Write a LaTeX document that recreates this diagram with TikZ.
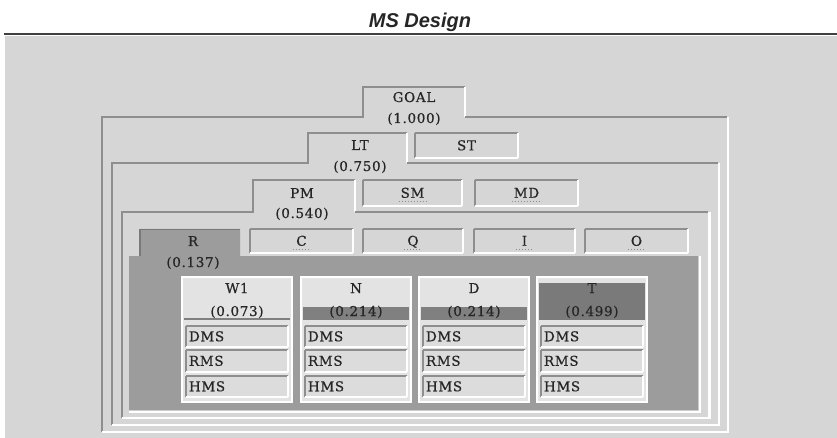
\documentclass[tikz,border=0pt]{standalone}
\usepackage{fontspec}
\newfontfamily\lblfont[LetterSpace=5,FakeBold=0.6]{DejaVu Serif}
\newfontfamily\ttlfont{Liberation Sans}
\definecolor{bgc}{HTML}{D6D6D6}
\definecolor{edk}{HTML}{8E8E8E}
\definecolor{panelc}{HTML}{9C9C9C}
\definecolor{cardc}{HTML}{E3E3E3}
\definecolor{rowc}{HTML}{DCDCDC}
\definecolor{barc}{HTML}{808080}
\definecolor{txtc}{HTML}{262626}
\tikzset{
  darkedge/.style={draw=edk, line width=2.5pt, line join=miter},
  liteedge/.style={draw=white, line width=2.5pt, line join=miter},
  insetdk/.style={draw=edk, line width=2pt},
  insetlt/.style={draw=white, line width=2pt},
  lbl/.style={font=\lblfont\fontsize{13.5}{15}\selectfont, text=txtc, inner sep=0pt},
  inset/.style={fill=bgc, inner sep=0pt, text height=9.5pt, text depth=0pt,
    font=\lblfont\fontsize{13.5}{15}\selectfont, text=txtc,
    append after command={(\tikzlastnode.south west) edge[insetdk] (\tikzlastnode.north west)
      (\tikzlastnode.north west) edge[insetdk] (\tikzlastnode.north east)
      (\tikzlastnode.north east) edge[insetlt] (\tikzlastnode.south east)
      (\tikzlastnode.south east) edge[insetlt] (\tikzlastnode.south west)}},
  rowbox/.style={inset, fill=rowc, minimum height=21pt, text width=96pt, align=left, inner xsep=3pt},
  card/.style={fill=cardc, draw=white, line width=1.5pt, minimum width=110pt, minimum height=125pt, inner sep=0pt},
  mnem/.style={draw=edk, dotted, line width=1pt},
}
\begin{document}
\begin{tikzpicture}[x=1pt,y=-1pt]
\useasboundingbox (0,0) rectangle (837,438);
\fill[white] (0,0) rectangle (837,438);
\fill[bgc] (5,36) rectangle (837,438);
\draw[line width=2pt, draw=black!75] (4,34) -- (837,34);
\node[font=\ttlfont\bfseries\itshape\fontsize{20}{22}\selectfont, text=black!85, anchor=base, inner sep=0pt] (title) at (420,28) {MS Design};

% frame 1 (GOAL)
\draw[darkedge] (102,432) -- (102,117) -- (363,117) -- (363,87) -- (465,87);
\draw[liteedge] (465,87) -- (465,117);
\draw[darkedge] (465,117) -- (727,117);
\draw[liteedge] (728,117) -- (728,432) -- (102,432);
% frame 2 (LT)
\draw[darkedge] (112,425) -- (112,163) -- (308,163) -- (308,133) -- (407,133);
\draw[liteedge] (407,133) -- (407,163);
\draw[darkedge] (407,163) -- (718,163);
\draw[liteedge] (719,163) -- (719,425) -- (112,425);
% frame 3 (PM)
\draw[darkedge] (122,418) -- (122,212) -- (253,212) -- (253,180) -- (355,180);
\draw[liteedge] (355,180) -- (355,212);
\draw[darkedge] (355,212) -- (708,212);
\draw[liteedge] (709.5,212) -- (709.5,418) -- (122,418);

% panel (R)
\fill[panelc] (129,410) -- (129,256) -- (140,256) -- (140,229) -- (240,229) -- (240,256) -- (698,256) -- (698,410) -- cycle;
\draw[draw=edk!85!black, line width=1.5pt] (140,256) -- (140,229.5) -- (240,229.5);
\draw[liteedge, line width=2pt] (699.5,256) -- (699.5,411.5) -- (129,411.5);

% labels of tabs
\node[lbl, anchor=base] (goal) at (414,102) {GOAL};
\node[lbl, anchor=base] (goalv) at (414,123) {(1.000)};
\node[lbl, anchor=base] (lt) at (360,150) {LT};
\node[lbl, anchor=base] (ltv) at (360,171) {(0.750)};
\node[lbl, anchor=base] (pm) at (302,198) {PM};
\node[lbl, anchor=base] (pmv) at (302,218) {(0.540)};
\node[lbl, anchor=base] (r) at (193,246) {R};
\node[lbl, anchor=base] (rv) at (193,267) {(0.137)};

% inset boxes
\node[inset, minimum width=103pt, minimum height=25pt] (st) at (466.5,145.5) {ST};
\node[inset, minimum width=99pt, minimum height=26pt] (sm) at (412.5,193) {SM};
\node[inset, minimum width=103pt, minimum height=26pt] (md) at (526.5,193) {MD};
\node[inset, minimum width=103pt, minimum height=24pt] (c) at (301.5,241) {C};
\node[inset, minimum width=100pt, minimum height=24pt] (q) at (413,241) {Q};
\node[inset, minimum width=101pt, minimum height=24pt] (i) at (524.5,241) {I};
\node[inset, minimum width=103pt, minimum height=24pt] (o) at (636.5,241) {O};
\draw[mnem] ([xshift=-14pt,yshift=-4pt]sm.base) -- ([xshift=14pt,yshift=-4pt]sm.base);
\draw[mnem] ([xshift=-15pt,yshift=-4pt]md.base) -- ([xshift=15pt,yshift=-4pt]md.base);
\draw[mnem] ([xshift=-9pt,yshift=-4pt]c.base) -- ([xshift=9pt,yshift=-4pt]c.base);
\draw[mnem] ([xshift=-9pt,yshift=-4pt]q.base) -- ([xshift=9pt,yshift=-4pt]q.base);
\draw[mnem] ([xshift=-9pt,yshift=-4pt]i.base) -- ([xshift=9pt,yshift=-4pt]i.base);
\draw[mnem] ([xshift=-9pt,yshift=-4pt]o.base) -- ([xshift=9pt,yshift=-4pt]o.base);

% cards
\node[card] (cw1) at (237,339.5) {};
\node[card] (cn) at (356,339.5) {};
\node[card] (cd) at (474,339.5) {};
\node[card] (ct) at (592,339.5) {};
% header bars
\draw[draw=barc, line width=2pt] (184,318.5) -- (290,318.5);
\fill[barc] (303,307) rectangle (409,319.5);
\fill[barc] (421,307) rectangle (527,319.5);
\fill[barc!95!black] (539,283) rectangle (645,319.5);

\foreach \nm/\lab/\val/\L in {w1/W1/0.073/182, n/N/0.214/301, d/D/0.214/419, t/T/0.499/537}{
  \node[lbl, anchor=base] (h\nm) at ({\L+55},293) {\lab};
  \node[lbl, anchor=base] (v\nm) at ({\L+55},316) {(\val)};
  \node[rowbox] (dms\nm) at ({\L+55},336.5) {DMS};
  \node[rowbox] (rms\nm) at ({\L+55},361) {RMS};
  \node[rowbox] (hms\nm) at ({\L+55},386.5) {HMS};
}
\end{tikzpicture}
\end{document}
